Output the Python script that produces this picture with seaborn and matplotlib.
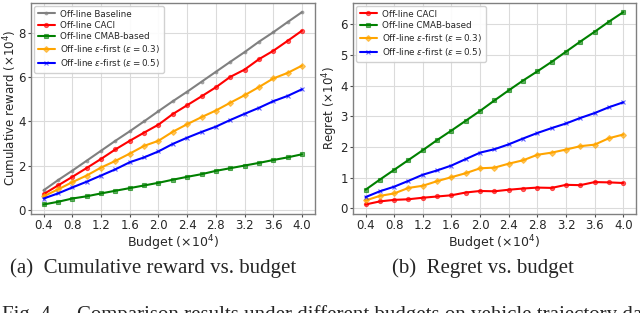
import numpy as np
import pandas as pd
import matplotlib
matplotlib.use("Agg")
import matplotlib.pyplot as plt
import seaborn as sns

# === data ===
budget = [0.4, 0.6, 0.8, 1.0, 1.2, 1.4, 1.6, 1.8, 2.0, 2.2,
          2.4, 2.6, 2.8, 3.0, 3.2, 3.4, 3.6, 3.8, 4.0]

# cumulative reward (x10^4)
rew_baseline = [0.88, 1.34, 1.77, 2.22, 2.67, 3.12, 3.55, 4.00, 4.46, 4.91,
                5.34, 5.79, 6.24, 6.69, 7.13, 7.60, 8.03, 8.49, 8.94]
rew_caci = [0.71, 1.10, 1.49, 1.89, 2.30, 2.73, 3.12, 3.49, 3.85, 4.33,
            4.73, 5.13, 5.54, 6.01, 6.34, 6.81, 7.19, 7.64, 8.10]
rew_cmab = [0.24, 0.36, 0.51, 0.61, 0.74, 0.86, 0.98, 1.10, 1.22, 1.36,
            1.49, 1.61, 1.76, 1.88, 2.00, 2.12, 2.25, 2.37, 2.51]
rew_eps03 = [0.61, 0.92, 1.25, 1.55, 1.91, 2.21, 2.54, 2.89, 3.12, 3.53,
             3.87, 4.19, 4.49, 4.84, 5.18, 5.55, 5.94, 6.19, 6.52]
rew_eps05 = [0.51, 0.74, 1.01, 1.27, 1.55, 1.83, 2.15, 2.37, 2.64, 2.98,
             3.26, 3.52, 3.76, 4.06, 4.34, 4.61, 4.91, 5.15, 5.45]

# regret (x10^4)
reg_caci = [0.13, 0.23, 0.28, 0.30, 0.35, 0.39, 0.43, 0.52, 0.57, 0.56,
            0.61, 0.65, 0.68, 0.67, 0.77, 0.76, 0.86, 0.85, 0.83]
reg_cmab = [0.61, 0.94, 1.26, 1.58, 1.90, 2.23, 2.54, 2.86, 3.18, 3.52,
            3.85, 4.17, 4.47, 4.78, 5.11, 5.44, 5.76, 6.09, 6.40]
reg_eps03 = [0.26, 0.41, 0.49, 0.67, 0.74, 0.89, 1.02, 1.15, 1.31, 1.33,
             1.46, 1.57, 1.75, 1.82, 1.92, 2.03, 2.08, 2.29, 2.41]
reg_eps05 = [0.37, 0.56, 0.71, 0.90, 1.10, 1.24, 1.40, 1.61, 1.82, 1.93,
             2.09, 2.28, 2.46, 2.62, 2.77, 2.95, 3.11, 3.30, 3.46]

x_ticks = [0.4, 0.8, 1.2, 1.6, 2.0, 2.4, 2.8, 3.2, 3.6, 4.0]

labels = ["Off-line Baseline", "Off-line CACI", "Off-line CMAB-based",
          r"Off-line $\varepsilon$-first ($\varepsilon=0.3$)",
          r"Off-line $\varepsilon$-first ($\varepsilon=0.5$)"]
colors = ["gray", "red", "green", "orange", "blue"]
markers = [".", "o", "s", "D", "x"]

sns.set_style("whitegrid", {"axes.edgecolor": "0.5", "grid.color": "0.86",
                            "xtick.bottom": True, "ytick.left": True})
plt.rcParams["font.family"] = ["DejaVu Sans"]
plt.rcParams["mathtext.fontset"] = "dejavusans"

fig = plt.figure(figsize=(6.4, 3.13), dpi=100)
ax1 = fig.add_axes([0.048, 0.316, 0.444, 0.676])
ax2 = fig.add_axes([0.551, 0.316, 0.443, 0.676])


def draw(ax, series, idx):
    for vals, i in zip(series, idx):
        c = matplotlib.colors.to_rgba(colors[i])
        ms = 4 if markers[i] == "." else 3
        sns.lineplot(x=budget, y=vals, ax=ax, color=colors[i], marker=markers[i],
                     markersize=ms, linewidth=1.5, label=labels[i],
                     markerfacecolor=(c[0], c[1], c[2], 0.6),
                     markeredgecolor=(c[0], c[1], c[2], 0.6),
                     markeredgewidth=0.8)
    ax.set_xticks(x_ticks)
    ax.set_xticklabels([f"{t:.1f}" for t in x_ticks])
    ax.tick_params(labelsize=8.5, length=2.5, color="0.3", pad=1)
    ax.set_xlabel(r"Budget ($\times10^4$)", fontsize=9, labelpad=1)
    ax.legend(loc="upper left", fontsize=6.3, frameon=True, handlelength=2.0,
              handletextpad=0.6, borderpad=0.4, labelspacing=0.25,
              borderaxespad=0.4, edgecolor="0.8", framealpha=0.9)
    for s in ax.spines.values():
        s.set_linewidth(1.0)


draw(ax1, [rew_baseline, rew_caci, rew_cmab, rew_eps03, rew_eps05], [0, 1, 2, 3, 4])
ax1.set_ylabel(r"Cumulative reward ($\times10^4$)", fontsize=8.5)
ax1.yaxis.set_label_coords(-0.043, 0.5)
ax1.set_yticks([0, 2, 4, 6, 8])

draw(ax2, [reg_caci, reg_cmab, reg_eps03, reg_eps05], [1, 2, 3, 4])
ax2.set_ylabel(r"Regret ($\times10^4$)", fontsize=8.5)
ax2.yaxis.set_label_coords(-0.046, 0.5)
ax2.set_yticks([0, 1, 2, 3, 4, 5, 6])

# captions
serif = ["Liberation Serif", "DejaVu Serif"]
fig.text(0.24, 1 - 268 / 313, "(a)  Cumulative reward vs. budget", ha="center",
         va="center", fontsize=15, family=serif)
fig.text(0.755, 1 - 268 / 313, "(b)  Regret vs. budget", ha="center",
         va="center", fontsize=15, family=serif)
fig.text(0.003, 1 - 320 / 313,
         "Fig. 4.    Comparison results under different budgets on vehicle trajectory dataset.",
         ha="left", va="baseline", fontsize=15, family=serif)

fig.savefig("out.png", dpi=100)
